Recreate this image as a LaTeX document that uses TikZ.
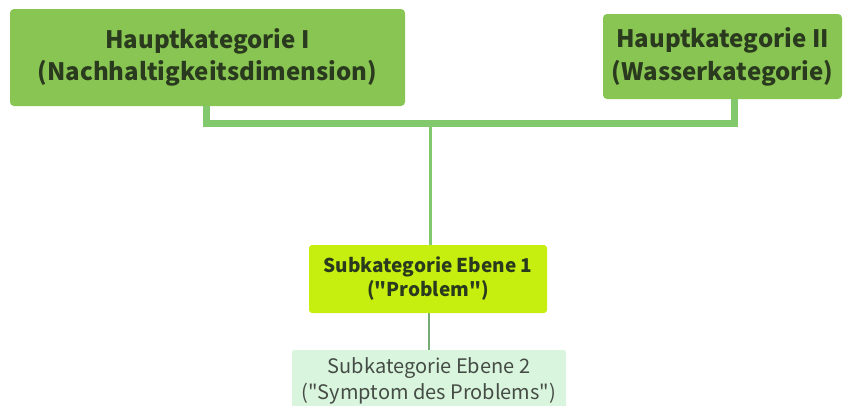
\documentclass[tikz,border=0pt]{standalone}
\usepackage{fontspec}
\newfontfamily\mapfont{Noto Sans CJK SC}
\definecolor{mainfill}{HTML}{88C552}
\definecolor{mainline}{HTML}{82C86D}
\definecolor{subonefill}{HTML}{C6EE0E}
\definecolor{subtwofill}{HTML}{D9F5DE}
\definecolor{subline}{HTML}{76AA74}
\definecolor{darktext}{HTML}{2A3A1E}
\definecolor{graytext}{HTML}{454C45}
\tikzset{
  mainbox/.style={fill=mainfill, rounded corners=4pt, align=center,
    font=\mapfont\bfseries\fontsize{24}{33}\selectfont, text=darktext, inner sep=0pt},
  subonebox/.style={fill=subonefill, rounded corners=3pt, align=center,
    font=\mapfont\bfseries\fontsize{19}{24}\selectfont, text=darktext, inner sep=0pt},
  subtwobox/.style={fill=subtwofill, rounded corners=2pt, align=center,
    font=\mapfont\fontsize{20}{26}\selectfont, text=graytext, inner sep=0pt},
  thickconn/.style={draw=mainline, line width=7pt},
  thinconn/.style={draw=mainline, line width=3pt},
  lowconn/.style={draw=subline, line width=2.5pt}
}
\begin{document}
\begin{tikzpicture}[x=1pt,y=-1pt]
  \useasboundingbox (0,0) rectangle (849,405);
  % connectors first, boxes drawn on top
  \coordinate (j) at (430,123);
  \coordinate (ja) at (206,123);
  \coordinate (jb) at (734,123);
  \draw[thickconn, line join=miter] (206,100) -- (ja) -- (jb) -- (734,95);
  \draw[thinconn] (j) -- (430,250);
  \draw[lowconn] (429,310) -- (429,352);
  % main categories
  \node[mainbox, minimum width=395pt, minimum height=97pt] (a) at (207.5,57.5)
    {\raisebox{-1pt}{Hauptkategorie I}\\(Nachhaltigkeitsdimension)};
  \node[mainbox, minimum width=239pt, minimum height=85pt] (b) at (722.5,56.5)
    {Hauptkategorie II\\(Wasserkategorie)};
  % sub categories
  \node[subonebox, minimum width=238pt, minimum height=68pt] (c) at (428,279)
    {Subkategorie Ebene 1\\(\char34Problem\char34)};
  \node[subtwobox, minimum width=274pt, minimum height=62pt, anchor=north] (d) at (429,350)
    {Subkategorie Ebene 2\\(\char34Symptom des Problems\char34)};
\end{tikzpicture}
\end{document}
